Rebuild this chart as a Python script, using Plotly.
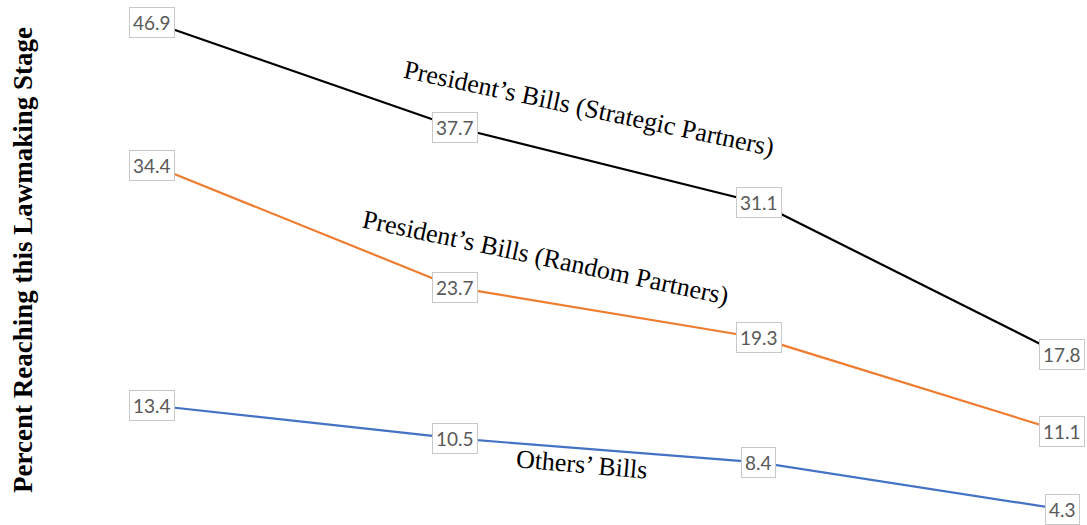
import plotly.graph_objects as go

# Lawmaking stages (evenly spaced categories along the x axis)
stages = [0, 1, 2, 3]

# Percent of bills reaching each stage
strategic = [46.9, 37.7, 31.1, 17.8]
random_partners = [34.4, 23.7, 19.3, 11.1]
others = [13.4, 10.5, 8.4, 4.3]

series_names = [
    "President\u2019s Bills (Strategic Partners)",
    "President\u2019s Bills (Random Partners)",
    "Others\u2019 Bills",
]
series_values = [strategic, random_partners, others]
series_colors = ["#000000", "#ED7D31", "#4472C4"]

W, H = 1087, 525

fig = go.Figure()
for name, vals, col in zip(series_names, series_values, series_colors):
    fig.add_trace(go.Scatter(
        x=stages, y=vals, mode="lines", name=name,
        line=dict(color=col, width=2.2),
        hoverinfo="skip",
    ))

# boxed data labels centred on every point
annotations = []
for vals in series_values:
    for xv, yv in zip(stages, vals):
        annotations.append(dict(
            x=xv, y=yv, xref="x", yref="y", text=f"{yv:.1f}",
            showarrow=False, font=dict(family="Lato, Open Sans, sans-serif", size=19, color="#595959"),
            bgcolor="#FFFFFF", bordercolor="#C8C8C8", borderwidth=1, borderpad=3,
        ))

# series names written along their lines
def px(xp, yp):
    return xp / W, 1 - yp / H

inline_labels = [
    (series_names[0], 589, 109, 12.0),
    (series_names[1], 545, 257, 12.0),
    (series_names[2], 582, 464, 5.0),
]
for txt, xp, yp, ang in inline_labels:
    xx, yy = px(xp, yp)
    annotations.append(dict(
        x=xx, y=yy, xref="paper", yref="paper", text=txt, showarrow=False,
        textangle=ang, xanchor="center", yanchor="middle",
        font=dict(family="Times New Roman, Liberation Serif, serif", size=26, color="#000000"),
    ))

# vertical axis title
xx, yy = px(23, 260)
annotations.append(dict(
    x=xx, y=yy, xref="paper", yref="paper",
    text="<b>Percent Reaching this Lawmaking Stage</b>", showarrow=False,
    textangle=-90, xanchor="center", yanchor="middle",
    font=dict(family="Times New Roman, Liberation Serif, serif", size=27, color="#000000"),
))

# scale: 303.3 px per stage, 11.44 px per percentage point
x_lo = -152 / 303.3
x_hi = 3 + (W - 1062) / 303.3
y_hi = 46.9 + 22 / 11.44
y_lo = 46.9 - (H - 22) / 11.44

fig.update_layout(
    width=W, height=H,
    margin=dict(l=0, r=0, t=0, b=0),
    paper_bgcolor="#FFFFFF", plot_bgcolor="#FFFFFF",
    showlegend=False,
    xaxis=dict(range=[x_lo, x_hi], visible=False, fixedrange=True),
    yaxis=dict(range=[y_lo, y_hi], visible=False, fixedrange=True),
    annotations=annotations,
)

fig.write_html("out.html", config={"displayModeBar": False})
